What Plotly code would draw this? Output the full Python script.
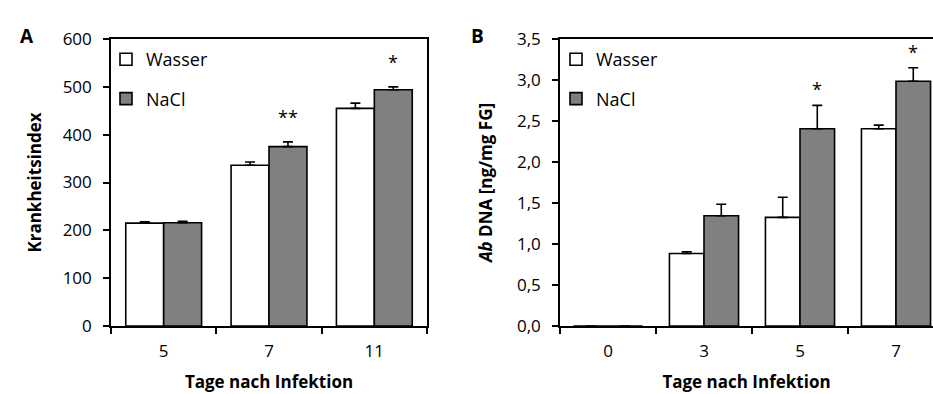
import plotly.graph_objects as go

# ---- data ----
days_a = ["5", "7", "11"]
wasser_a = [215, 336, 455]
wasser_a_err = [3, 7, 11]
nacl_a = [216, 375, 494]
nacl_a_err = [3, 10, 6]
stars_a = ["", "**", "*"]

days_b = ["0", "3", "5", "7"]
wasser_b = [0.0, 0.885, 1.325, 2.405]
wasser_b_err = [0.0, 0.02, 0.245, 0.045]
nacl_b = [0.0, 1.345, 2.405, 2.985]
nacl_b_err = [0.0, 0.14, 0.285, 0.165]
stars_b = ["", "", "*", "*"]

W, H = 933, 394
FONT = "Open Sans"
GRAY = "#808080"

fig = go.Figure()

def bars(x, y, err, name, color, xa, ya, leg, show):
    return go.Bar(
        x=x, y=y, name=name, xaxis=xa, yaxis=ya, legend=leg, legendgroup=name,
        showlegend=show,
        marker=dict(color=color, line=dict(color="black", width=1.6)),
        error_y=dict(type="data", array=err, arrayminus=[0]*len(err), symmetric=False,
                     color="black", thickness=1.6, width=5),
    )

fig.add_trace(bars(days_a, wasser_a, wasser_a_err, "Wasser", "white", "x", "y", "legend", True))
fig.add_trace(bars(days_a, nacl_a, nacl_a_err, "NaCl", GRAY, "x", "y", "legend", True))
fig.add_trace(bars(days_b, wasser_b, wasser_b_err, "Wasser", "white", "x2", "y2", "legend2", True))
fig.add_trace(bars(days_b, nacl_b, nacl_b_err, "NaCl", GRAY, "x2", "y2", "legend2", True))

# significance stars over NaCl bars (category axes use the category index)
for i, (v, e, s) in enumerate(zip(nacl_a, nacl_a_err, stars_a)):
    if s:
        fig.add_annotation(x=i, y=v + e, xref="x", yref="y", text=s, showarrow=False,
                           xshift=19, yanchor="bottom", yshift=11,
                           font=dict(family=FONT, size=18, color="black"))
for i, (v, e, s) in enumerate(zip(nacl_b, nacl_b_err, stars_b)):
    if s:
        fig.add_annotation(x=i, y=v + e, xref="x2", yref="y2", text=s, showarrow=False,
                           xshift=17, yanchor="bottom", yshift=2,
                           font=dict(family=FONT, size=18, color="black"))

# panel labels
fig.add_annotation(x=18 / W, y=1 - 21 / H, xref="paper", yref="paper", text="<b>A</b>",
                   showarrow=False, font=dict(family=FONT, size=19, color="black"))
fig.add_annotation(x=478 / W, y=1 - 21 / H, xref="paper", yref="paper", text="<b>B</b>",
                   showarrow=False, font=dict(family=FONT, size=19, color="black"))

ydom = [1 - 326 / H, 1 - 39 / H]
axis_common = dict(showline=True, linecolor="black", linewidth=1.6, showgrid=False,
                   zeroline=False, ticks="outside", ticklen=6, tickwidth=1.6,
                   tickcolor="black", tickfont=dict(family=FONT, size=17, color="black"),
                   automargin=False)

fig.update_layout(
    width=W, height=H, margin=dict(l=0, r=0, t=0, b=0),
    paper_bgcolor="white", plot_bgcolor="white",
    barmode="group", bargap=0.28, bargroupgap=0,
    separators=", ",
    font=dict(family=FONT, size=17, color="black"),
    xaxis=dict(domain=[111 / W, 427 / W], anchor="y", type="category",
               tickson="boundaries", range=[-0.5, 2.5], mirror=True,
               ticklabelstandoff=9,
               title=dict(text="<b>Tage nach Infektion</b>", standoff=15,
                          font=dict(family=FONT, size=17)),
               **axis_common),
    yaxis=dict(domain=ydom, anchor="x", range=[0, 600], dtick=100, mirror=True,
               ticklabelstandoff=8,
               title=dict(text="<b>Krankheitsindex</b>", standoff=17,
                          font=dict(family=FONT, size=17)),
               **axis_common),
    xaxis2=dict(domain=[560 / W, 1.0], anchor="y2", type="category",
                tickson="boundaries", range=[-0.5, -0.5 + 373 / 96], mirror=True,
                ticklabelstandoff=9,
                title=dict(text="<b>Tage nach Infektion</b>", standoff=15,
                           font=dict(family=FONT, size=17)),
                **axis_common),
    yaxis2=dict(domain=ydom, anchor="x2", range=[0, 3.5], dtick=0.5, tickformat=".1f",
                mirror=False, ticklabelstandoff=8,
                title=dict(text="<b><i>Ab</i> DNA [ng/mg FG]</b>", standoff=20,
                           font=dict(family=FONT, size=17)),
                **axis_common),
    legend=dict(x=106 / W, y=1 - 41 / H, xanchor="left", yanchor="top",
                bgcolor="rgba(0,0,0,0)", traceorder="grouped", tracegroupgap=13,
                font=dict(family=FONT, size=18, color="black")),
    legend2=dict(x=556 / W, y=1 - 41 / H, xanchor="left", yanchor="top",
                 bgcolor="rgba(0,0,0,0)", traceorder="grouped", tracegroupgap=13,
                 font=dict(family=FONT, size=18, color="black")),
)

fig.write_html("out.html")
